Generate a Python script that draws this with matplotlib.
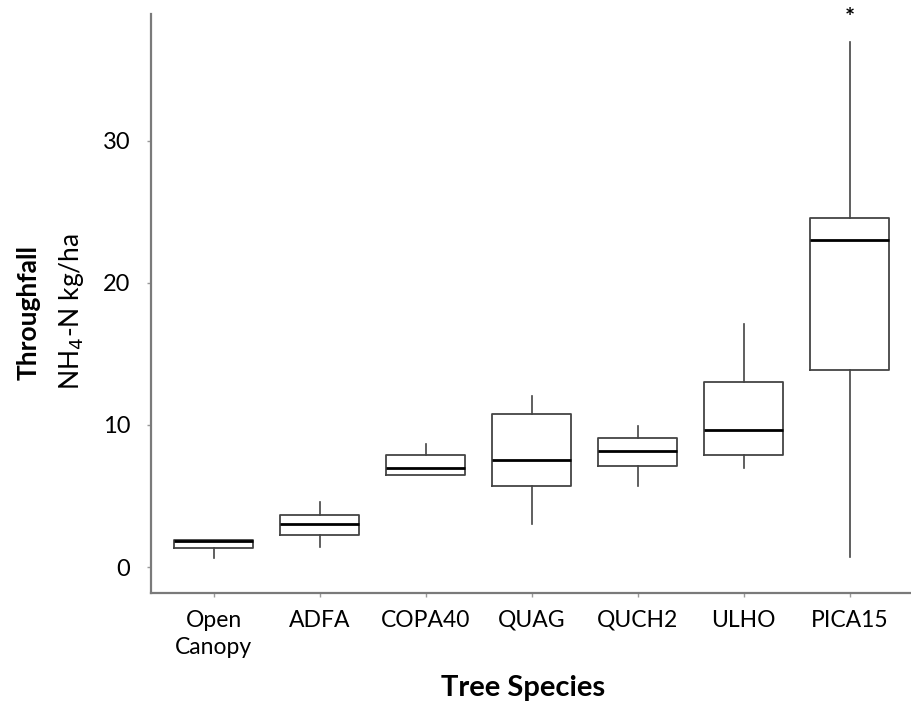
import matplotlib
matplotlib.use("Agg")
import matplotlib.pyplot as plt

plt.rcParams['font.family'] = ['Lato', 'DejaVu Sans']

categories = ["Open\nCanopy", "ADFA", "COPA40", "QUAG", "QUCH2", "ULHO", "PICA15"]
whisker_low = [0.61, 1.42, 6.44, 3.00, 5.67, 6.94, 0.69]
q1_vals     = [1.31, 2.28, 6.44, 5.69, 7.08, 7.89, 13.89]
medians     = [1.83, 3.03, 7.00, 7.56, 8.14, 9.64, 23.00]
q3_vals     = [1.92, 3.67, 7.89, 10.78, 9.08, 13.00, 24.56]
whisker_high = [1.92, 4.56, 8.67, 12.06, 9.89, 17.08, 36.97]
yticks = [0, 10, 20, 30]
star_index = 6
star_value = 38.6

fig = plt.figure(figsize=(9.11, 7.06), dpi=100)
ax = fig.add_axes([0.166, 0.160, 0.834, 0.820])

stats = []
for i in range(len(categories)):
    stats.append(dict(whislo=whisker_low[i], q1=q1_vals[i], med=medians[i],
                      q3=q3_vals[i], whishi=whisker_high[i], fliers=[]))

ax.bxp(stats, positions=range(len(categories)), widths=0.75, showcaps=False,
       showfliers=False, patch_artist=False,
       boxprops=dict(color="#444444", linewidth=1.3),
       whiskerprops=dict(color="#444444", linewidth=1.2),
       medianprops=dict(color="black", linewidth=2.0))

ax.text(star_index, star_value, "*", ha="center", va="center", fontsize=17,
        fontweight="bold", clip_on=False)

ax.set_xlim(-0.59, 6.58)
ax.set_ylim(-1.83, 38.9)
ax.set_xticks(range(len(categories)))
ax.set_xticklabels(categories, fontsize=16.5, linespacing=1.35)
ax.set_yticks(yticks)
ax.set_yticklabels([str(v) for v in yticks], fontsize=17)

for s in ["top", "right"]:
    ax.spines[s].set_visible(False)
for s in ["left", "bottom"]:
    ax.spines[s].set_color("#7a7a7a")
    ax.spines[s].set_linewidth(1.6)
ax.tick_params(axis="both", color="#9a9a9a", length=3, width=1)
ax.tick_params(axis="y", pad=12)
ax.tick_params(axis="x", pad=9)

fig.text(0.031, 0.558, "Throughfall", rotation=90, ha="center", va="center",
         fontsize=19, fontweight="bold")
fig.text(0.079, 0.558, "NH$_4$-N kg/ha", rotation=90, ha="center", va="center",
         fontsize=19)
fig.text(0.574, 0.025, "Tree Species", ha="center", va="center",
         fontsize=21, fontweight="bold")

fig.savefig("out.png", dpi=100)
